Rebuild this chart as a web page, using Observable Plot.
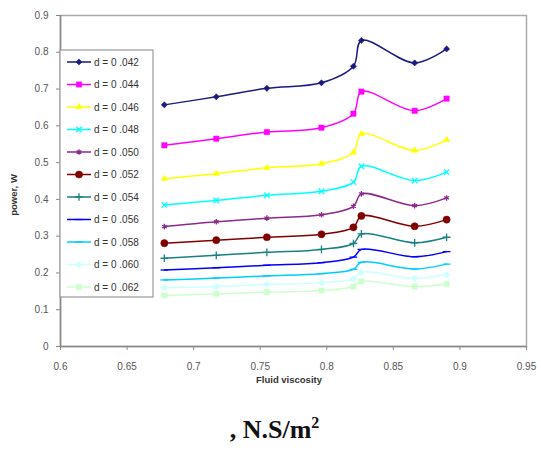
<!DOCTYPE html>
<html>
<head>
<meta charset="utf-8">
<script src="https://cdn.jsdelivr.net/npm/d3@7"></script>
<script src="https://cdn.jsdelivr.net/npm/@observablehq/plot@0.6"></script>
<style>
  html, body { margin: 0; padding: 0; background: #fff; }
  #wrap { width: 541px; height: 453px; position: relative; overflow: hidden; }
  #caption { position: absolute; left: 0; width: 541px; top: 414px; text-align: center;
    font-family: "Liberation Serif", "Times New Roman", serif; font-weight: bold; font-size: 26px; color: #111; padding-left: 4px; }
  #caption sup { font-size: 16px; vertical-align: 10px; }
</style>
</head>
<body>
<div id="wrap"><div id="chart"></div><div id="caption">, N.S/m<sup>2</sup></div></div>
<script>
// viscosity values (x)
const viscosity = [0.678, 0.717, 0.755, 0.796, 0.820, 0.826, 0.866, 0.890];
// power for each diameter d
const p042 = [0.657, 0.679, 0.702, 0.717, 0.762, 0.832, 0.771, 0.809];
const p044 = [0.547, 0.565, 0.583, 0.595, 0.633, 0.693, 0.641, 0.674];
const p046 = [0.456, 0.470, 0.486, 0.497, 0.528, 0.578, 0.533, 0.562];
const p048 = [0.385, 0.397, 0.411, 0.422, 0.447, 0.490, 0.451, 0.474];
const p050 = [0.326, 0.339, 0.349, 0.358, 0.381, 0.415, 0.383, 0.404];
const p052 = [0.281, 0.289, 0.297, 0.305, 0.324, 0.355, 0.327, 0.345];
const p054 = [0.240, 0.248, 0.256, 0.264, 0.280, 0.306, 0.282, 0.297];
const p056 = [0.208, 0.214, 0.221, 0.228, 0.243, 0.264, 0.244, 0.258];
const p058 = [0.181, 0.186, 0.192, 0.198, 0.210, 0.229, 0.211, 0.224];
const p060 = [0.160, 0.163, 0.169, 0.173, 0.184, 0.202, 0.185, 0.195];
const p062 = [0.139, 0.143, 0.148, 0.152, 0.163, 0.177, 0.163, 0.170];
const seriesLabels = ["d = 0 .042","d = 0 .044","d = 0 .046","d = 0 .048","d = 0 .050","d = 0 .052","d = 0 .054","d = 0 .056","d = 0 .058","d = 0 .060","d = 0 .062"];
const seriesValues = [p042,p044,p046,p048,p050,p052,p054,p056,p058,p060,p062];
const xTicks = [0.6, 0.65, 0.7, 0.75, 0.8, 0.85, 0.9, 0.95];
const yTicks = [0, 0.1, 0.2, 0.3, 0.4, 0.5, 0.6, 0.7, 0.8, 0.9];

const dash = { draw(ctx, size) { const w = Math.sqrt(size) * 0.9; ctx.moveTo(-w, 0); ctx.lineTo(w, 0); } };
const styles = [
  {color: "#1a1a80", symbol: "diamond2", fill: true, r: 2.8},
  {color: "#ff00ff", symbol: "square2", fill: true, r: 3.4},
  {color: "#ffff00", symbol: "triangle2", fill: true, r: 3.0},
  {color: "#00ffff", symbol: "times", fill: false, r: 2.6},
  {color: "#8a2a8a", symbol: "asterisk", fill: false, r: 2.6},
  {color: "#800000", symbol: "circle", fill: true, r: 3.6},
  {color: "#1a8080", symbol: "plus", fill: false, r: 2.6},
  {color: "#0000ff", symbol: dash, fill: false, r: 2.4},
  {color: "#00ccff", symbol: dash, fill: false, r: 2.4},
  {color: "#ccffff", symbol: "diamond2", fill: true, r: 3.0},
  {color: "#ccffcc", symbol: "square2", fill: true, r: 3.4}
];

const rows = [];
seriesValues.forEach((vals, i) => vals.forEach((v, j) => rows.push({d: seriesLabels[i], idx: i, x: viscosity[j], y: v})));

const marks = [
  Plot.frame({stroke: "#aaa", strokeWidth: 1.5}),
  Plot.axisX({ticks: xTicks, tickFormat: d => String(+d.toFixed(2)), tickSize: 4, tickPadding: 12,
    fontSize: 10, fill: "#555", stroke: "#888", label: null}),
  Plot.axisY({ticks: yTicks, tickFormat: d => String(+d.toFixed(1)), tickSize: 4, tickPadding: 8,
    fontSize: 10, fill: "#555", stroke: "#888", label: null}),
  Plot.ruleX([0.6], {stroke: "#888", strokeWidth: 1.5}),
  Plot.ruleY([0], {stroke: "#888", strokeWidth: 1.5})
];
styles.forEach((s, i) => {
  const data = rows.filter(r => r.idx === i);
  marks.push(Plot.line(data, {x: "x", y: "y", stroke: s.color, strokeWidth: 1.5, curve: "catmull-rom"}));
  marks.push(Plot.dot(data, {x: "x", y: "y", symbol: () => s.symbol, r: s.r,
    fill: s.fill ? s.color : "none", stroke: s.color, strokeWidth: s.fill ? 0.5 : 1.3}));
});

const chart = Plot.plot({
  width: 541, height: 400,
  marginLeft: 60, marginRight: 15, marginTop: 15, marginBottom: 54,
  style: {fontFamily: "Liberation Sans, Arial, sans-serif", background: "#fff"},
  x: {domain: [0.6, 0.95]},
  y: {domain: [0, 0.9]},
  marks
});
document.getElementById("chart").appendChild(chart);

// axis titles and legend
const svg = d3.select(chart);
svg.append("text").attr("x", 289).attr("y", 383).attr("text-anchor", "middle")
  .attr("font-size", 9.5).attr("font-weight", "bold").attr("fill", "#333").text("Fluid viscosity");
svg.append("text").attr("transform", "translate(17,195) rotate(-90)").attr("text-anchor", "middle")
  .attr("font-size", 9.5).attr("font-weight", "bold").attr("fill", "#333").text("power, W");

const symMap = {diamond2: d3.symbolDiamond2, square2: d3.symbolSquare2, triangle2: d3.symbolTriangle2,
  times: d3.symbolTimes, asterisk: d3.symbolAsterisk, circle: d3.symbolCircle, plus: d3.symbolPlus};
const lg = svg.append("g").attr("text-anchor", "start");
lg.append("rect").attr("x", 60).attr("y", 50).attr("width", 93).attr("height", 247)
  .attr("fill", "#fff").attr("stroke", "#999").attr("stroke-width", 1.2);
styles.forEach((s, i) => {
  const y = 62 + i * 22.5;
  lg.append("line").attr("x1", 67).attr("x2", 91).attr("y1", y).attr("y2", y)
    .attr("stroke", s.color).attr("stroke-width", 1.5);
  const type = typeof s.symbol === "string" ? symMap[s.symbol] : s.symbol;
  lg.append("path").attr("transform", `translate(79,${y})`)
    .attr("d", d3.symbol(type, Math.PI * s.r * s.r)())
    .attr("fill", s.fill ? s.color : "none").attr("stroke", s.color).attr("stroke-width", s.fill ? 0.5 : 1.3);
  lg.append("text").attr("x", 94).attr("y", y).attr("dy", "0.35em").attr("font-size", 10)
    .attr("text-anchor", "start").attr("fill", "#333").style("white-space", "pre").text(seriesLabels[i]);
});
</script>
</body>
</html>
